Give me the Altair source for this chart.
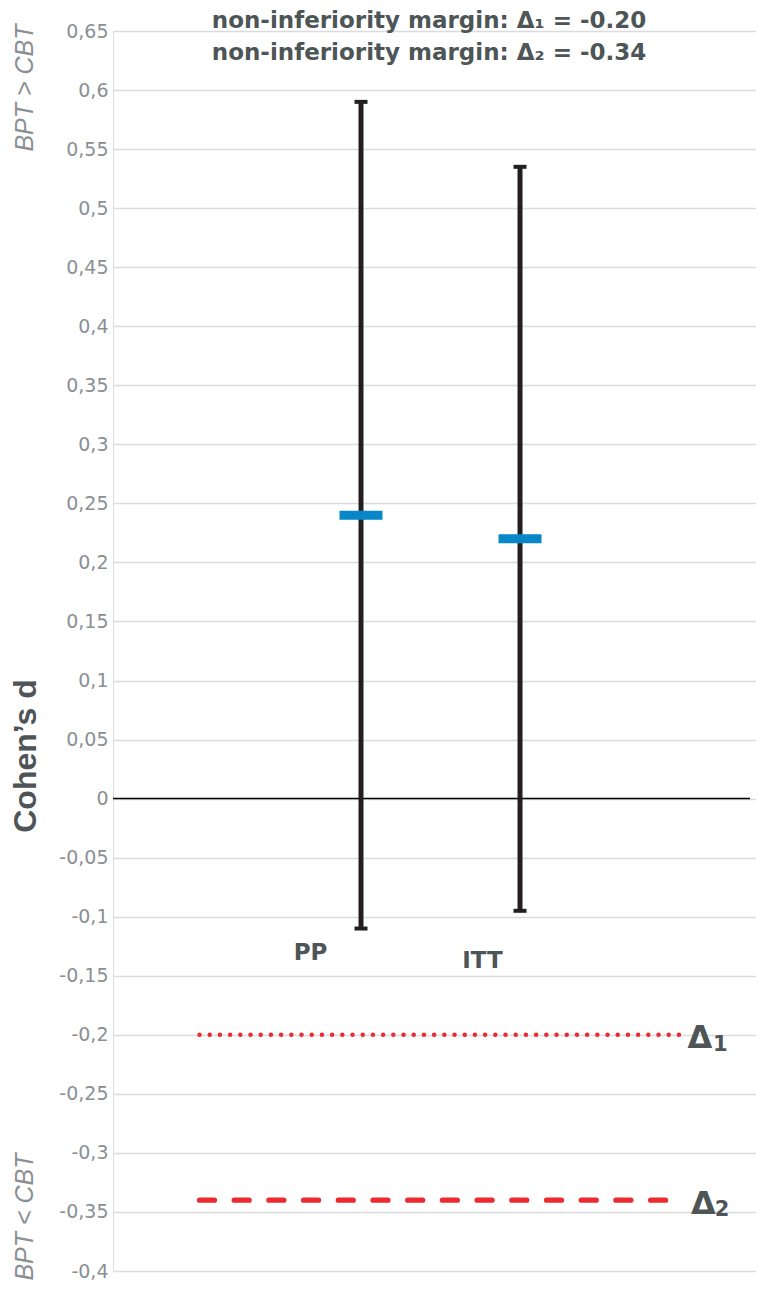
import altair as alt
import pandas as pd

# ---- data ----
groups = ["PP", "ITT"]
group_x = [38.57, 63.30]        # position along hidden x scale (0-100)
means = [0.24, 0.22]
ci_low = [-0.11, -0.095]
ci_high = [0.59, 0.535]

label_x = [30.72, 57.47]
label_y = [-0.131, -0.1374]

margins = [-0.20, -0.34]
margin_delta = ["Δ", "Δ"]
margin_sub = ["1", "2"]
margin_x_start = [13.45, 13.45]
margin_x_end = [88.55, 86.47]
margin_label_x = [89.35, 89.89]
margin_sub_x = [93.3, 93.6]
margin_styles = ["dotted", "dashed"]

y_ticks = [-0.4, -0.35, -0.3, -0.25, -0.2, -0.15, -0.1, -0.05, 0,
           0.05, 0.1, 0.15, 0.2, 0.25, 0.3, 0.35, 0.4, 0.45, 0.5, 0.55, 0.6, 0.65]
y_domain = [-0.4, 0.65]
x_domain = [0, 100]
zero_line_x = [0, 99.07]

title_lines = ["non-inferiority margin: Δ₁ = -0.20", "non-inferiority margin: Δ₂ = -0.34"]
title_y = [-3, 29]

DARK = "#4d5557"
GRAY = "#8a8f94"
RED = "#ec2a30"
FONT = "Liberation Sans"
WIDE = "DejaVu Sans"

df = pd.DataFrame({"group": groups, "x": group_x, "mean": means, "lo": ci_low,
                   "hi": ci_high, "lx": label_x, "ly": label_y})
dm = pd.DataFrame({"y": margins, "delta": margin_delta, "sub": margin_sub,
                   "x": margin_x_start, "x2": margin_x_end, "lx": margin_label_x,
                   "sx": margin_sub_x, "style": margin_styles})
dz = pd.DataFrame({"x": [zero_line_x[0]], "x2": [zero_line_x[1]], "y": [0]})

xscale = alt.Scale(domain=x_domain)
yscale = alt.Scale(domain=y_domain, nice=False, zero=False)
yaxis = alt.Axis(values=y_ticks, labelExpr="replace(datum.value + '', '.', ',')",
                 title=None, domain=False, ticks=False, grid=True,
                 gridColor="#d9dbde", gridWidth=1.6, labelFontSize=19,
                 labelColor=GRAY, labelFont=WIDE, labelPadding=5)


def X(field="x"):
    return alt.X(f"{field}:Q", scale=xscale, axis=None)


def Y(field):
    return alt.Y(f"{field}:Q", scale=yscale, axis=yaxis)


grid_base = alt.Chart(dz).mark_rule(opacity=0).encode(x=X(), y=Y("y"))

zero = alt.Chart(dz).mark_rule(color="#000000", strokeWidth=1.5).encode(
    x=X(), x2="x2:Q", y=Y("y"))

bars = alt.Chart(df).mark_rule(color="#231f20", strokeWidth=5, opacity=1).encode(
    x=X(), y=Y("lo"), y2="hi:Q")
cap_lo = alt.Chart(df).mark_tick(color="#231f20", orient="horizontal", size=13,
                                 thickness=4, opacity=1).encode(x=X(), y=Y("lo"))
cap_hi = alt.Chart(df).mark_tick(color="#231f20", orient="horizontal", size=13,
                                 thickness=4, opacity=1).encode(x=X(), y=Y("hi"))
mean_marks = alt.Chart(df).mark_tick(color="#0786c8", orient="horizontal", size=43,
                                     thickness=9, opacity=1).encode(x=X(), y=Y("mean"))

group_labels = alt.Chart(df).mark_text(font=WIDE, fontSize=23, fontWeight="bold",
                                       color=DARK, baseline="middle").encode(
    x=X("lx"), y=Y("ly"), text="group:N")

dotted = alt.Chart(dm[dm["style"] == "dotted"]).mark_rule(
    color=RED, strokeWidth=4.4, strokeDash=[0.1, 10.1], strokeCap="round").encode(
    x=X(), x2="x2:Q", y=Y("y"))
dashed = alt.Chart(dm[dm["style"] == "dashed"]).mark_rule(
    color=RED, strokeWidth=5.2, strokeDash=[15, 19.7], strokeCap="round").encode(
    x=X(), x2="x2:Q", y=Y("y"))

delta_text = alt.Chart(dm).mark_text(font=WIDE, fontSize=32, fontWeight="bold",
                                     color=DARK, align="left", baseline="alphabetic",
                                     dy=13.5).encode(
    x=X("lx"), y=Y("y"), text="delta:N")
delta_sub = alt.Chart(dm).mark_text(font=WIDE, fontSize=21, fontWeight="bold",
                                    color=DARK, align="left", baseline="alphabetic",
                                    dy=16).encode(
    x=X("sx"), y=Y("y"), text="sub:N")

title_layers = []
for line, ty in zip(title_lines, title_y):
    title_layers.append(
        alt.Chart(pd.DataFrame({"t": [line]})).mark_text(
            font=WIDE, fontSize=23, fontWeight="bold", color=DARK,
            align="center", baseline="alphabetic").encode(
            x=alt.value(316), y=alt.value(ty), text="t:N"))

ytitle = alt.Chart(pd.DataFrame({"t": ["Cohen’s d"]})).mark_text(
    font=FONT, fontSize=32, fontWeight="bold", color=DARK, angle=270,
    align="center", baseline="alphabetic").encode(
    x=alt.value(-77), y=alt.value(725), text="t:N")

side_top = alt.Chart(pd.DataFrame({"t": ["BPT > CBT"]})).mark_text(
    font=FONT, fontSize=25, fontStyle="italic", color=GRAY, angle=270,
    align="center", baseline="alphabetic").encode(
    x=alt.value(-80), y=alt.value(57), text="t:N")

side_bot = alt.Chart(pd.DataFrame({"t": ["BPT < CBT"]})).mark_text(
    font=FONT, fontSize=25, fontStyle="italic", color=GRAY, angle=270,
    align="center", baseline="alphabetic").encode(
    x=alt.value(-80), y=alt.value(1186), text="t:N")

chart = alt.layer(
    grid_base, zero, dotted, dashed, bars, cap_lo, cap_hi, mean_marks,
    group_labels, delta_text, delta_sub, *title_layers, ytitle, side_top, side_bot
).properties(
    width=643, height=1240,
    autosize=alt.AutoSizeParams(type="none"),
    padding={"left": 105, "top": 23, "right": 0, "bottom": 10},
).configure_view(stroke=None).configure(background="white")

chart.save("out.html", embed_options={"renderer": "svg", "actions": False})
